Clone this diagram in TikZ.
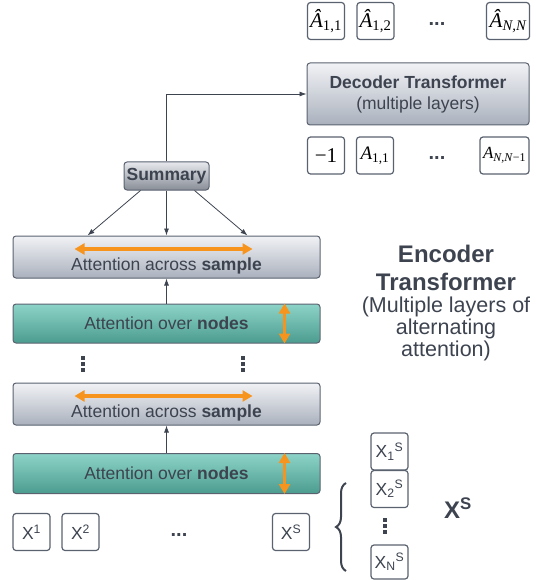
\documentclass[tikz,border=0pt]{standalone}
\usepackage{fontspec}
\setmainfont{Liberation Sans}
\newfontfamily\serifsym{Liberation Serif}
\usetikzlibrary{arrows.meta,decorations.pathreplacing}
\definecolor{txtgray}{HTML}{3D4450}
\definecolor{linegray}{HTML}{5A6270}
\definecolor{arrorange}{HTML}{F7941D}
\definecolor{graytop}{HTML}{F1F2F5}
\definecolor{graybot}{HTML}{AAB1BD}
\definecolor{tealtop}{HTML}{8DD3C7}
\definecolor{tealbot}{HTML}{4C9C90}
\begin{document}
\begin{tikzpicture}
  [x=1pt,y=-1pt,
   every node/.style={text=txtgray,font=\fontsize{17.5}{21}\selectfont,inner sep=0pt},
   tok/.style={draw=linegray,line width=1.2pt,rounded corners=3pt,fill=white,
     minimum width=37pt,minimum height=37pt},
   mtok/.style={tok,text=black,font=\fontsize{21}{24}\selectfont\serifsym},
   layer/.style={draw=linegray,line width=1pt,rounded corners=3pt,
     minimum width=307pt,top color=graytop,bottom color=graybot},
   nodelayer/.style={layer,top color=tealtop,bottom color=tealbot},
   arr/.style={draw=txtgray,line width=0.8pt,-{Latex[length=7pt,width=5pt]}},
   swap/.style={draw=arrorange,line width=3.5pt,
     {Triangle[length=10pt,width=11pt]}-{Triangle[length=10pt,width=11pt]}},
   dotsh/.style={font=\fontsize{20}{22}\selectfont\bfseries}]
  \useasboundingbox (0,0) rectangle (535,580);

  % decoder side
  \node (ah1) [mtok] at (326,21) {{\itshape\^A}\textsubscript{1,1}};
  \node (ah2) [mtok] at (375.5,21) {{\itshape\^A}\textsubscript{1,2}};
  \node (ahd) [dotsh] at (437,24) {...};
  \node (ahN) [mtok,minimum width=43pt] at (508,21) {\itshape\^A\textsubscript{N,N}};
  \node (dec) [layer,minimum width=222pt,minimum height=62pt,align=center] at (418,94)
    {\textbf{Decoder Transformer}\\(multiple layers)};
  \node (a0) [mtok] at (326,155.5) {−1};
  \node (a1) [mtok,font=\fontsize{19}{22}\selectfont\serifsym] at (375,155.5)
    {{\itshape A}\textsubscript{1,1}};
  \node (ad) [dotsh] at (437,158) {...};
  \node (aN) [mtok,minimum width=49pt,font=\fontsize{17}{20}\selectfont\serifsym] at (504.5,155.5)
    {{\itshape A}\textsubscript{\itshape N,N}\textsubscript{−1}};

  % encoder side
  \node (summ) [layer,minimum width=85pt,minimum height=28pt,top color=graytop!85!graybot,
    bottom color=graybot!80!black] at (166.5,176) {\textbf{Summary}};
  \node (samp1) [layer,minimum height=42pt] at (166.5,257) {};
  \node (node1) [nodelayer,minimum height=39pt] at (166.5,323.5) {Attention over \textbf{nodes}};
  \node (samp2) [layer,minimum height=42pt] at (166.5,404) {};
  \node (node2) [nodelayer,minimum height=40pt] at (166.5,473.5) {Attention over \textbf{nodes}};
  \node (samp1t) at (166.5,266) {Attention across \textbf{sample}};
  \node (samp2t) at (166.5,413) {Attention across \textbf{sample}};

  \node (x1) [tok] at (31.5,532) {X\textsuperscript{1}};
  \node (x2) [tok] at (80.5,532) {X\textsuperscript{2}};
  \node (xd) [dotsh] at (179,535) {...};
  \node (xS) [tok] at (291,532) {X\textsuperscript{S}};

  \node (xs1) [tok] at (389.5,451.5) {X\textsubscript{1}\textsuperscript{S}};
  \node (xs2) [tok] at (389.5,489) {X\textsubscript{2}\textsuperscript{S}};
  \node (xsN) [tok,minimum height=34pt] at (389.5,562) {X\textsubscript{N}\textsuperscript{S}};
  \node (xslab) [font=\fontsize{24}{28}\selectfont\bfseries] at (458,508) {X\textsuperscript{S}};

  \node (enc) [align=center,font=\fontsize{21.5}{22}\selectfont] at (446,303)
    {{\fontsize{24}{28}\selectfont\bfseries Encoder}\\[6pt]
     {\fontsize{24}{28}\selectfont\bfseries Transformer}\\
     (Multiple layers of\\alternating\\attention)};

  % vertical dots
  \foreach \x/\y in {83/364,243/364,385/526}
    \foreach \d in {-6,0,6}
      \fill[txtgray] (\x-1.6,\y+\d-1.6) rectangle (\x+1.6,\y+\d+1.6);

  % connectors
  \draw[arr] (summ.north) |- (dec.west);
  \draw[arr] ([xshift=-26pt]summ.south) -- ([xshift=-79pt]samp1.north);
  \draw[arr] (summ.south) -- (samp1.north);
  \draw[arr] ([xshift=28pt]summ.south) -- ([xshift=81pt]samp1.north);
  \foreach \from/\to in {node1/samp1,node2/samp2}
    \draw[arr] (\from) -- (\to);

  % orange attention arrows
  \foreach \lay in {samp1,samp2}
    \draw[swap] ([xshift=-92pt,yshift=8pt]\lay.center) -- ([xshift=86pt,yshift=8pt]\lay.center);
  \foreach \lay in {node1,node2}
    \draw[swap,line width=3.5pt] ([xshift=118pt]\lay.north) -- ([xshift=118pt]\lay.south);

  \draw[draw=txtgray,line width=2pt,decorate,decoration={brace,amplitude=10pt}]
    (346,571) -- (346,483);
\end{tikzpicture}
\end{document}
